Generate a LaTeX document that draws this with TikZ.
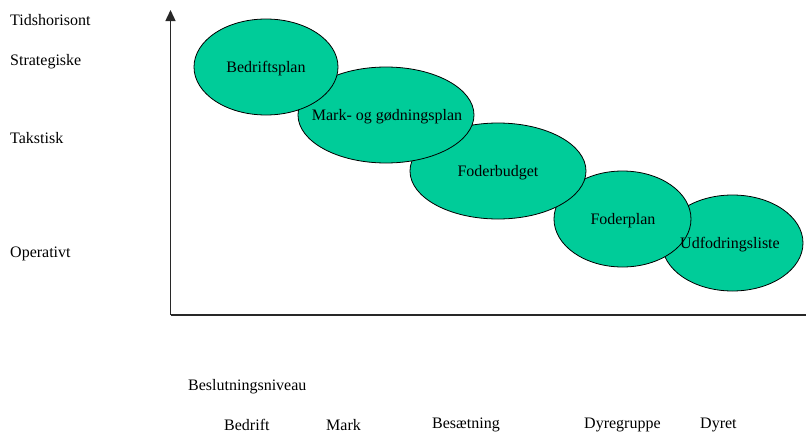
\documentclass[tikz,border=0pt]{standalone}
\usepackage{fontspec}
\setmainfont{Liberation Serif}
\usetikzlibrary{arrows.meta,shapes.geometric}
\definecolor{planfill}{RGB}{0,204,153}
\definecolor{axisgray}{RGB}{40,40,40}
\tikzset{
  plan/.style={ellipse, draw=black, line width=0.8pt, fill=planfill, inner sep=0pt},
  txt/.style={font=\fontsize{16}{19}\selectfont, inner sep=0pt, text=black},
  axisline/.style={draw=axisgray, line width=1.4pt},
}
\begin{document}
\begin{tikzpicture}[x=1pt,y=-1pt]
\useasboundingbox (0,0) rectangle (806,434);

% axes
\coordinate (origin) at (170.5,315);
\coordinate (ytop) at (170.5,10);
\coordinate (xend) at (806,315);
\draw[axisline, -{Triangle[length=11pt,width=10pt]}] (origin) -- (ytop);
\draw[axisline] (origin) -- (xend);

% planning ellipses, drawn from the last one so the earlier ones lie on top
\node[plan, minimum width=141pt, minimum height=96pt] (udf)  at (732.5,243) {};
\node[plan, minimum width=137pt, minimum height=96pt] (fplan) at (622.5,219) {};
\node[plan, minimum width=176pt, minimum height=96pt] (fbud) at (498,171) {};
\node[plan, minimum width=176pt, minimum height=96pt] (mark) at (386,115) {};
\node[plan, minimum width=144pt, minimum height=96pt] (bed)  at (266,67) {};

% ellipse labels
\node[txt] (bedT)  at (266,69)   {Bedriftsplan};
\node[txt] (markT) at (387,117)  {Mark- og gødningsplan};
\node[txt] (fbudT) at (498,173)  {Foderbudget};
\node[txt] (fplanT) at (623,221) {Foderplan};
\node[txt] (udfT)  at (730,245) {Udfodringsliste};

% time horizon labels
\node[txt, anchor=west] (tid) at (10,20) {Tidshorisont};
\node[txt, anchor=west] (str) at (10,62) {Strategiske};
\node[txt, anchor=west] (tak) at (10,138) {Takstisk};
\node[txt, anchor=west] (ope) at (10,254) {Operativt};

% decision level labels
\node[txt, anchor=west] (niv) at (188,387) {Beslutningsniveau};
\node[txt, anchor=west] (lv1) at (224,425) {Bedrift};
\node[txt, anchor=west] (lv2) at (326,425) {Mark};
\node[txt, anchor=west] (lv3) at (432,425) {Besætning};
\node[txt, anchor=west] (lv4) at (584,425) {Dyregruppe};
\node[txt, anchor=west] (lv5) at (700,425) {Dyret};
\end{tikzpicture}
\end{document}
